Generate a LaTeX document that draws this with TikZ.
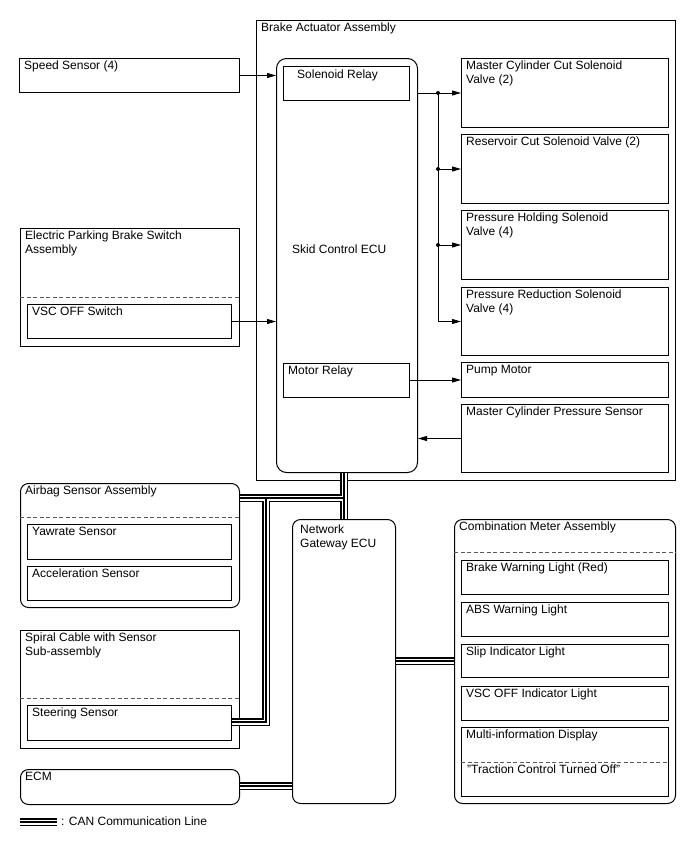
\documentclass[tikz,border=0pt]{standalone}
\usepackage{fontspec}
\setmainfont{Liberation Sans}
\usetikzlibrary{arrows.meta}

\begin{document}
\begin{tikzpicture}[
  x=1pt, y=-1pt,
  font=\fontsize{12}{14}\selectfont,
  frame/.style={rectangle, draw=black, line width=1pt, inner sep=0pt, anchor=north west},
  sz/.style 2 args={minimum width=#1pt, minimum height=#2pt},
  tag/.style={anchor=north west, inner sep=0pt, align=left},
  unit/.style={frame, label={[tag, xshift=5pt, yshift=-3pt]north west:#1}},
  sep/.style={draw=black!65, line width=0.9pt, dash pattern=on 4pt off 2.5pt},
  arrow/.style={line width=0.8pt, -{Triangle[length=9pt, width=5pt]}},
  can/.style={draw=white, line width=5pt, preaction={draw=black, line width=8.5pt}, postaction={draw=black, line width=1.5pt}}
]
\useasboundingbox (0,0) rectangle (688,852);

\node (bact) [unit={Brake Actuator Assembly}, sz={419}{460}] at (256,20) {};
\node (skid) [frame, rounded corners=10pt, sz={141}{414}] at (276,58) {};
\node (srly) [frame, sz={126}{34}] at (283,66) {};
\node (mrly) [unit={Motor Relay}, sz={126}{34}] at (283,363) {};
\node [tag] at ([xshift=14pt, yshift=-4pt]srly.north west) {Solenoid Relay};
\node [tag] at ([xshift=16pt, yshift=-187pt]skid.north west) {Skid Control ECU};

\node (mcc) [unit={Master Cylinder Cut Solenoid\\Valve (2)}, sz={207}{69}] at (461,58) {};
\node (rcv) [unit={Reservoir Cut Solenoid Valve (2)}, sz={207}{69}] at (461,134) {};
\node (phv) [unit={Pressure Holding Solenoid\\Valve (4)}, sz={207}{69}] at (461,210) {};
\node (prv) [unit={Pressure Reduction Solenoid\\Valve (4)}, sz={207}{68}] at (461,287) {};
\node (pump) [unit={Pump Motor}, sz={207}{35}] at (461,362) {};
\node (mcps) [unit={Master Cylinder Pressure Sensor}, sz={207}{68}] at (461,404) {};

\node (speed) [unit={Speed Sensor (4)}, sz={220}{34}] at (19,58) {};
\node (epb) [unit={Electric Parking Brake Switch\\Assembly}, sz={219}{118}] at (20,228) {};
\draw [sep] ([yshift=-69pt]epb.north west) -- ([yshift=-69pt]epb.north east);
\node (vsc) [unit={VSC OFF Switch}, sz={204}{34}] at (27,304) {};

\node (air) [unit={Airbag Sensor Assembly}, rounded corners=8pt, sz={219}{124}] at (20,483) {};
\draw [sep] ([yshift=-34pt]air.north west) -- ([yshift=-34pt]air.north east);
\node (yaw) [unit={Yawrate Sensor}, sz={204}{35}] at (27,524) {};
\node (acc) [unit={Acceleration Sensor}, sz={204}{34}] at (27,566) {};

\node (spiral) [unit={Spiral Cable with Sensor\\Sub-assembly}, sz={219}{118}] at (20,630) {};
\draw [sep] ([yshift=-68pt]spiral.north west) -- ([yshift=-68pt]spiral.north east);
\node (steer) [unit={Steering Sensor}, sz={204}{35}] at (27,705) {};

\node (ecm) [unit={ECM}, rounded corners=8pt, sz={219}{35}] at (20,769) {};

\node (gw) [frame, rounded corners=8pt, sz={103}{284}] at (292,519) {};
\node [tag] at ([xshift=8pt, yshift=-6pt]gw.north west) {Network\\Gateway ECU};

\node (cmb) [unit={Combination Meter Assembly}, rounded corners=8pt, sz={221}{284}] at (454,519) {};
\draw [sep] ([yshift=-33pt]cmb.north west) -- ([yshift=-33pt]cmb.north east);
\node (bwl) [unit={Brake Warning Light (Red)}, sz={207}{34}] at (461,560) {};
\node (abs) [unit={ABS Warning Light}, sz={207}{34}] at (461,602) {};
\node (slip) [unit={Slip Indicator Light}, sz={207}{33}] at (461,644) {};
\node (vscl) [unit={VSC OFF Indicator Light}, sz={207}{34}] at (461,686) {};
\node (mid) [unit={Multi-information Display}, sz={207}{69}] at (461,727) {};
\draw [sep] ([yshift=-35pt]mid.north west) -- ([yshift=-35pt]mid.north east);
\node [tag] at ([xshift=6pt, yshift=-38pt]mid.north west) {"Traction Control Turned Off"};

\coordinate (bus) at (438,0);
\draw [arrow] (speed.east) -- (skid.west |- speed.east);
\draw [arrow] (vsc.east) -- (skid.west |- vsc.east);
\draw [arrow] (skid.east |- mcc.west) -- (mcc.west);
\draw [line width=0.8pt] (bus |- mcc.west) -- (bus |- prv.west);
\foreach \v in {rcv, phv, prv}
  \draw [arrow] (bus |- \v.west) -- (\v.west);
\foreach \v in {mcc, rcv, phv}
  \fill (bus |- \v.west) circle (2pt);
\draw [arrow] (mrly.east |- pump.west) -- (pump.west);
\draw [arrow] (mcps.west) -- (skid.east |- mcps.west);

\coordinate (jA) at (344,498);
\coordinate (jB) at (266,498);
\coordinate (jS) at (266,722);
\coordinate (jE) at (0,786);
\coordinate (jC) at (0,661);
\draw [can] (skid.south -| jA) -- (gw.north -| jA)
  (air.east |- jA) -- (jA)
  (jB) -- (jS) -- (steer.east |- jS)
  (ecm.east |- jE) -- (gw.west |- jE)
  (gw.east |- jC) -- (cmb.west |- jC);

\coordinate (key) at (20,822);
\draw [can] (key) -- ++(37,0);
\node (keytext) [anchor=west, inner sep=0pt] at (61,821) {: CAN Communication Line};
\end{tikzpicture}
\end{document}
